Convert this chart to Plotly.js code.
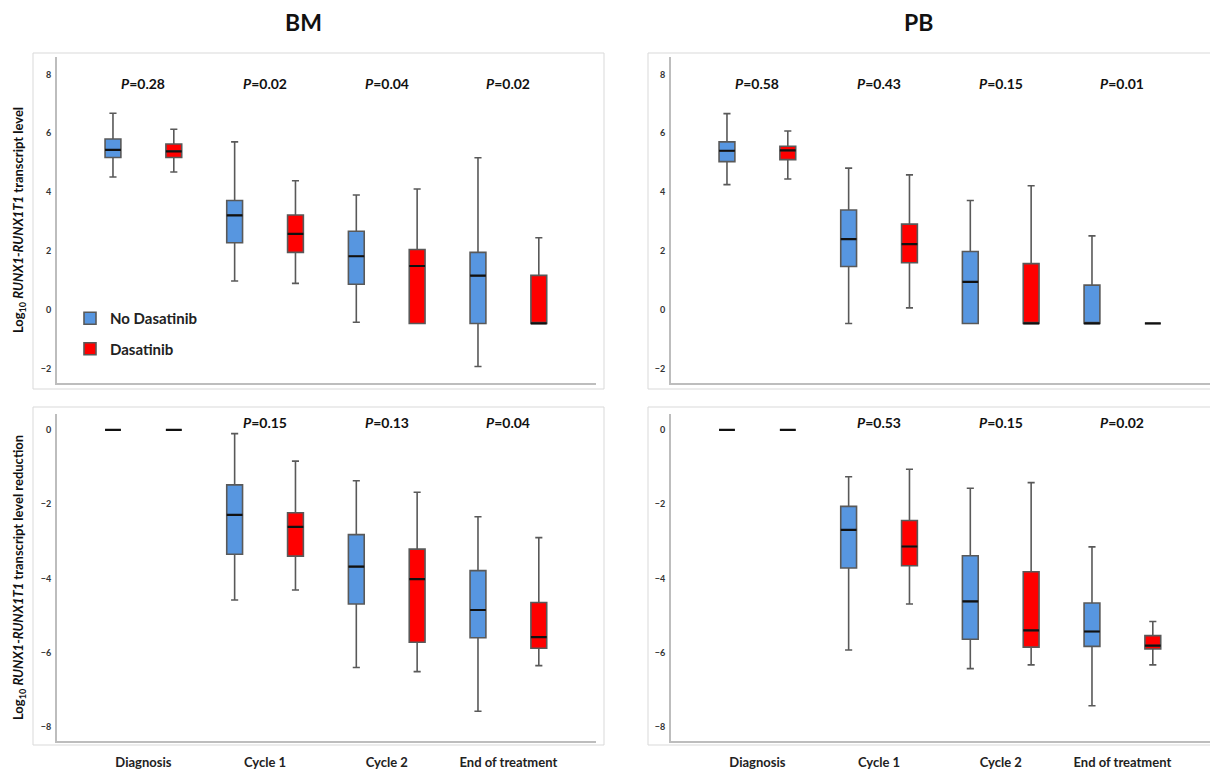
<!DOCTYPE html>
<html>
<head>
<meta charset="utf-8">
<script src="https://cdn.plot.ly/plotly-3.0.1.min.js"></script>
<style>html,body{margin:0;padding:0;background:#fff}#chart{width:1210px;height:772px}</style>
</head>
<body>
<div id="chart"></div>
<script>
// ---- Categories ----
const categories = ['Diagnosis', 'Cycle 1', 'Cycle 2', 'End of treatment'];
const seriesNames = ['No Dasatinib', 'Dasatinib'];

// ---- BM: log10 transcript level ----
const bmLevelNoLower = [4.52, 0.99, -0.41, -1.91];
const bmLevelNoQ1    = [5.18, 2.29, 0.88, -0.45];
const bmLevelNoMed   = [5.44, 3.22, 1.83, 1.17];
const bmLevelNoQ3    = [5.81, 3.72, 2.68, 1.96];
const bmLevelNoUpper = [6.68, 5.71, 3.91, 5.17];

const bmLevelDaLower = [4.69, 0.91, -0.45, -0.45];
const bmLevelDaQ1    = [5.18, 1.96, -0.45, -0.45];
const bmLevelDaMed   = [5.39, 2.59, 1.50, -0.45];
const bmLevelDaQ3    = [5.64, 3.23, 2.06, 1.18];
const bmLevelDaUpper = [6.14, 4.39, 4.11, 2.46];

// ---- PB: log10 transcript level ----
const pbLevelNoLower = [4.26, -0.45, -0.45, -0.45];
const pbLevelNoQ1    = [5.04, 1.48, -0.45, -0.45];
const pbLevelNoMed   = [5.41, 2.41, 0.96, -0.45];
const pbLevelNoQ3    = [5.71, 3.40, 1.99, 0.85];
const pbLevelNoUpper = [6.67, 4.82, 3.72, 2.52];

const pbLevelDaLower = [4.45, 0.08, -0.45, -0.45];
const pbLevelDaQ1    = [5.11, 1.61, -0.45, -0.45];
const pbLevelDaMed   = [5.42, 2.24, -0.45, -0.45];
const pbLevelDaQ3    = [5.56, 2.92, 1.58, -0.45];
const pbLevelDaUpper = [6.08, 4.59, 4.22, -0.45];

// ---- BM: log10 transcript level reduction ----
const bmRedNoLower = [0, -4.58, -6.40, -7.58];
const bmRedNoQ1    = [0, -3.35, -4.69, -5.60];
const bmRedNoMed   = [0, -2.29, -3.68, -4.85];
const bmRedNoQ3    = [0, -1.48, -2.82, -3.79];
const bmRedNoUpper = [0, -0.10, -1.37, -2.34];

const bmRedDaLower = [0, -4.31, -6.51, -6.35];
const bmRedDaQ1    = [0, -3.40, -5.72, -5.88];
const bmRedDaMed   = [0, -2.61, -4.02, -5.58];
const bmRedDaQ3    = [0, -2.23, -3.21, -4.65];
const bmRedDaUpper = [0, -0.84, -1.68, -2.90];

// ---- PB: log10 transcript level reduction ----
const pbRedNoLower = [0, -5.93, -6.43, -7.43];
const pbRedNoQ1    = [0, -3.72, -5.64, -5.83];
const pbRedNoMed   = [0, -2.69, -4.62, -5.43];
const pbRedNoQ3    = [0, -2.06, -3.39, -4.66];
const pbRedNoUpper = [0, -1.26, -1.57, -3.15];

const pbRedDaLower = [0, -4.69, -6.33, -6.33];
const pbRedDaQ1    = [0, -3.66, -5.85, -5.90];
const pbRedDaMed   = [0, -3.14, -5.40, -5.81];
const pbRedDaQ3    = [0, -2.44, -3.82, -5.54];
const pbRedDaUpper = [0, -1.06, -1.42, -5.16];

// ---- P values ----
const bmLevelP = ['0.28', '0.02', '0.04', '0.02'];
const pbLevelP = ['0.58', '0.43', '0.15', '0.01'];
const bmRedP   = [null, '0.15', '0.13', '0.04'];
const pbRedP   = [null, '0.53', '0.15', '0.02'];

const panelTitles = ['BM', 'PB'];
const yTitleLevel = 'Log<sub>10</sub> <i>RUNX1-RUNX1T1</i> transcript level';
const yTitleRed = 'Log<sub>10</sub> <i>RUNX1-RUNX1T1</i> transcript level reduction';

// ---- Styling ----
const BLUE = '#5796E0';
const RED = '#FF0000';
const FONT = 'Lato, "Open Sans", "DejaVu Sans", sans-serif';
const W = 1210, H = 772;

function boxTrace(name, color, xa, ya, lo, q1, med, q3, hi, showLegend, group) {
  return {
    type: 'box', name: name, x: categories,
    lowerfence: lo, q1: q1, median: med, q3: q3, upperfence: hi,
    xaxis: xa, yaxis: ya, offsetgroup: group, legendgroup: group,
    fillcolor: color, line: {color: '#595959', width: 1.6},
    whiskerwidth: 0.45, boxpoints: false, showlegend: showLegend,
    hoverinfo: 'skip'
  };
}
function medianTrace(xa, ya, med, group) {
  return {
    type: 'box', name: 'median', x: categories,
    lowerfence: med, q1: med, median: med, q3: med, upperfence: med,
    xaxis: xa, yaxis: ya, offsetgroup: group,
    fillcolor: 'rgba(0,0,0,0)', line: {color: '#111', width: 2.2},
    whiskerwidth: 0.45, boxpoints: false, showlegend: false, hoverinfo: 'skip'
  };
}

const panels = [
  {xa: 'x',  ya: 'y',  no: [bmLevelNoLower, bmLevelNoQ1, bmLevelNoMed, bmLevelNoQ3, bmLevelNoUpper],
                      da: [bmLevelDaLower, bmLevelDaQ1, bmLevelDaMed, bmLevelDaQ3, bmLevelDaUpper], legend: true},
  {xa: 'x2', ya: 'y2', no: [pbLevelNoLower, pbLevelNoQ1, pbLevelNoMed, pbLevelNoQ3, pbLevelNoUpper],
                      da: [pbLevelDaLower, pbLevelDaQ1, pbLevelDaMed, pbLevelDaQ3, pbLevelDaUpper], legend: false},
  {xa: 'x3', ya: 'y3', no: [bmRedNoLower, bmRedNoQ1, bmRedNoMed, bmRedNoQ3, bmRedNoUpper],
                      da: [bmRedDaLower, bmRedDaQ1, bmRedDaMed, bmRedDaQ3, bmRedDaUpper], legend: false},
  {xa: 'x4', ya: 'y4', no: [pbRedNoLower, pbRedNoQ1, pbRedNoMed, pbRedNoQ3, pbRedNoUpper],
                      da: [pbRedDaLower, pbRedDaQ1, pbRedDaMed, pbRedDaQ3, pbRedDaUpper], legend: false}
];

const data = [];
panels.forEach(p => {
  data.push(boxTrace(seriesNames[0], BLUE, p.xa, p.ya, ...p.no, p.legend, 'a'));
  data.push(boxTrace(seriesNames[1], RED, p.xa, p.ya, ...p.da, p.legend, 'b'));
});
panels.forEach(p => {
  data.push(medianTrace(p.xa, p.ya, p.no[2], 'a'));
  data.push(medianTrace(p.xa, p.ya, p.da[2], 'b'));
});

const tickFont = {family: FONT, size: 9, color: '#333', weight: 'bold'};
const lineCol = '#bdbdbd';
const xDomL = [57 / W, 596 / W], xDomR = [671 / W, 1];
const yDomT = [1 - 383 / H, 1 - 57 / H], yDomB = [1 - 741 / H, 1 - 414 / H];

function xAxis(dom, anchor, showLabels) {
  return {
    domain: dom, anchor: anchor, type: 'category', range: [-0.71, 3.72],
    showticklabels: showLabels, ticks: '', showgrid: false, zeroline: false,
    showline: true, linecolor: lineCol, linewidth: 2, ticklabelstandoff: 8,
    tickfont: {family: FONT, size: 13, color: '#222', weight: 'bold'}, fixedrange: true
  };
}
function yAxis(dom, anchor, range, title) {
  const ax = {
    domain: dom, anchor: anchor, range: range, dtick: 2, tick0: 0,
    ticks: '', showgrid: false, zeroline: false, showline: true, linecolor: lineCol, linewidth: 2,
    tickfont: tickFont, ticklabelstandoff: 2, fixedrange: true
  };
  if (title) ax.title = {text: title, font: {family: FONT, size: 13, color: '#111', weight: 'bold'}, standoff: 14};
  return ax;
}

const annotations = [];
function addP(arr, xref, yPaper) {
  arr.forEach((v, i) => {
    if (v === null) return;
    annotations.push({
      x: categories[i], xref: xref, y: yPaper, yref: 'paper', showarrow: false,
      text: '<i>P</i>=' + v, font: {family: FONT, size: 14, color: '#111', weight: 'bold'},
      xanchor: 'center', yanchor: 'middle'
    });
  });
}
addP(bmLevelP, 'x', 1 - 84 / H);
addP(pbLevelP, 'x2', 1 - 84 / H);
addP(bmRedP, 'x3', 1 - 422 / H);
addP(pbRedP, 'x4', 1 - 422 / H);

annotations.push({x: 303 / W, y: 1 - 22 / H, xref: 'paper', yref: 'paper', showarrow: false,
  text: panelTitles[0], font: {family: FONT, size: 23, color: '#111', weight: 'bold'}, xanchor: 'center', yanchor: 'middle'});
annotations.push({x: 918 / W, y: 1 - 22 / H, xref: 'paper', yref: 'paper', showarrow: false,
  text: panelTitles[1], font: {family: FONT, size: 23, color: '#111', weight: 'bold'}, xanchor: 'center', yanchor: 'middle'});

const frame = {color: '#d9d9d9', width: 1};
const shapes = [
  {type: 'rect', xref: 'paper', yref: 'paper', x0: 33 / W, x1: 604 / W, y0: 1 - 389 / H, y1: 1 - 53 / H, line: frame, layer: 'below'},
  {type: 'rect', xref: 'paper', yref: 'paper', x0: 648 / W, x1: 1.01, y0: 1 - 389 / H, y1: 1 - 53 / H, line: frame, layer: 'below'},
  {type: 'rect', xref: 'paper', yref: 'paper', x0: 33 / W, x1: 604 / W, y0: 1 - 745 / H, y1: 1 - 407 / H, line: frame, layer: 'below'},
  {type: 'rect', xref: 'paper', yref: 'paper', x0: 648 / W, x1: 1.01, y0: 1 - 745 / H, y1: 1 - 407 / H, line: frame, layer: 'below'}
];

const layout = {
  width: W, height: H, margin: {l: 0, r: 0, t: 0, b: 0},
  paper_bgcolor: '#fff', plot_bgcolor: 'rgba(0,0,0,0)',
  font: {family: FONT, color: '#222'},
  boxmode: 'group', boxgap: 0, boxgroupgap: 0.74,
  showlegend: true,
  legend: {x: 70 / W, y: 1 - 302 / H, xanchor: 'left', yanchor: 'top', bgcolor: 'rgba(0,0,0,0)',
           font: {family: FONT, size: 15, color: '#222', weight: 'bold'}, tracegroupgap: 8, traceorder: 'grouped'},
  xaxis: xAxis(xDomL, 'y', false),
  yaxis: yAxis(yDomT, 'x', [-2.47, 8.59], yTitleLevel),
  xaxis2: xAxis(xDomR, 'y2', false),
  yaxis2: yAxis(yDomT, 'x2', [-2.47, 8.59], null),
  xaxis3: xAxis(xDomL, 'y3', true),
  yaxis3: yAxis(yDomB, 'x3', [-8.38, 0.43], yTitleRed),
  xaxis4: xAxis(xDomR, 'y4', true),
  yaxis4: yAxis(yDomB, 'x4', [-8.38, 0.43], null),
  annotations: annotations, shapes: shapes
};

Plotly.newPlot('chart', data, layout, {displayModeBar: false, staticPlot: true});
</script>
</body>
</html>
